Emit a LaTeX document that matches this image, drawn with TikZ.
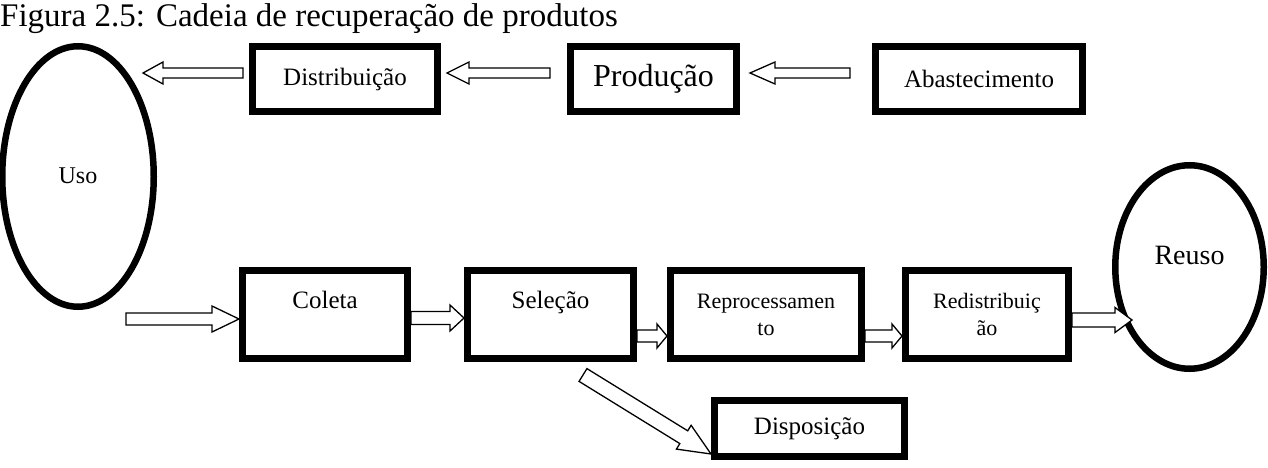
\documentclass[tikz,border=0pt]{standalone}
\usepackage{fontspec}
\setmainfont{Liberation Serif}
\usepackage{tikz}
\usetikzlibrary{positioning, calc, shapes.geometric}

% hollow block arrow: #1 tail, #2 tip, #3 half shaft, #4 half head, #5 head length
\newcommand{\blockarrow}[5]{%
  \draw[hollow] let \p1=($#2-#1$), \n1={atan2(\y1,\x1)}, \n2={veclen(\x1,\y1)} in
    [shift={#1}, rotate=\n1]
    (0pt,-#3) -- (\n2-#5,-#3) -- (\n2-#5,-#4) -- (\n2,0pt) -- (\n2-#5,#4) -- (\n2-#5,#3) -- (0pt,#3) -- cycle;
}

\begin{document}
\begin{tikzpicture}[
    x=1pt, y=-1pt,
    box/.style={draw, line width=7pt, inner sep=0pt, align=center, font=\fontsize{25}{30}\selectfont},
    topbox/.style={box, minimum height=65pt},
    lowbox/.style={box, minimum height=88pt},
    oval/.style={draw, ellipse, line width=6.5pt, inner sep=0pt},
    hollow/.style={draw, fill=white, line width=1.3pt, line join=miter},
]
    \useasboundingbox (0,0) rectangle (1268,468);
    \node[anchor=base west, inner sep=0pt, font=\fontsize{33}{40}\selectfont] (title) at (0,26.5) {Figura 2.5: Cadeia de recuperação de produtos};

    % upper chain
    \node[topbox, minimum width=185pt] (dist) at (345,79) {Distribuição};
    \node[topbox, minimum width=166pt, right=126pt of dist, font=\fontsize{32}{38}\selectfont] (prod) {Produção};
    \node[topbox, minimum width=207pt, right=132pt of prod] (abast) {Abastecimento};
    \node[oval, minimum width=151.5pt, minimum height=260.5pt, text depth=2pt, font=\fontsize{24}{29}\selectfont] (uso) at (78,176.5) {Uso};

    % lower chain
    \node[lowbox, minimum width=165pt] (coleta) at (325,314.5) {Coleta\\\mbox{}};
    \node[lowbox, minimum width=166pt, right=53pt of coleta] (selecao) {Seleção\\\mbox{}};
    \node[lowbox, minimum width=191pt, right=30pt of selecao, font=\fontsize{22}{27}\selectfont] (reproc) {Reprocessamen\\to};
    \node[lowbox, minimum width=163pt, right=37pt of reproc, font=\fontsize{22}{27}\selectfont] (redist) {Redistribuiç\\ão};
    \node[oval, minimum width=148.5pt, minimum height=203.5pt, text depth=24pt, font=\fontsize{28}{34}\selectfont] (reuso) at (1189.5,267) {Reuso};
    \node[box, minimum width=190pt, minimum height=56pt] (dispos) at (809.5,428.5) {Disposição};

    \coordinate (abast-out) at ([xshift=-22pt, yshift=6pt]abast.west);
    \coordinate (prod-out) at ([xshift=-17pt, yshift=6pt]prod.west);
    \coordinate (dist-out) at ([xshift=-6pt, yshift=6pt]dist.west);
    \coordinate (uso-in) at ([xshift=65pt, yshift=103.5pt]uso.center);
    \coordinate (uso-out) at ([xshift=-113pt, yshift=-4.5pt]coleta.west);
    \coordinate (reuso-in) at ([xshift=-57.5pt, yshift=-53pt]reuso.center);
    \coordinate (sel-out) at ([xshift=32.5pt, yshift=-13pt]selecao.south);

    \blockarrow{(abast-out)}{([xshift=10pt, yshift=6pt]prod.east)}{5pt}{11pt}{25pt}
    \blockarrow{(prod-out)}{([xshift=6pt, yshift=6pt]dist.east)}{5pt}{11pt}{22pt}
    \blockarrow{(dist-out)}{(uso-in)}{5pt}{11pt}{20pt}
    \blockarrow{(uso-out)}{([yshift=-4.5pt]coleta.west)}{6pt}{13pt}{27pt}
    \blockarrow{([yshift=-3.5pt]coleta.east)}{([yshift=-3.5pt]selecao.west)}{6.5pt}{13pt}{14pt}
    \blockarrow{([yshift=-21.5pt]selecao.east)}{([yshift=-21.5pt]reproc.west)}{6pt}{12pt}{10pt}
    \blockarrow{([yshift=-21.5pt]reproc.east)}{([yshift=-21.5pt]redist.west)}{6pt}{12pt}{10pt}
    \blockarrow{([yshift=-5.5pt]redist.east)}{(reuso-in)}{7pt}{12.5pt}{17pt}
    \blockarrow{(sel-out)}{([yshift=6pt]dispos.south west)}{7.5pt}{14pt}{32pt}
\end{tikzpicture}
\end{document}
